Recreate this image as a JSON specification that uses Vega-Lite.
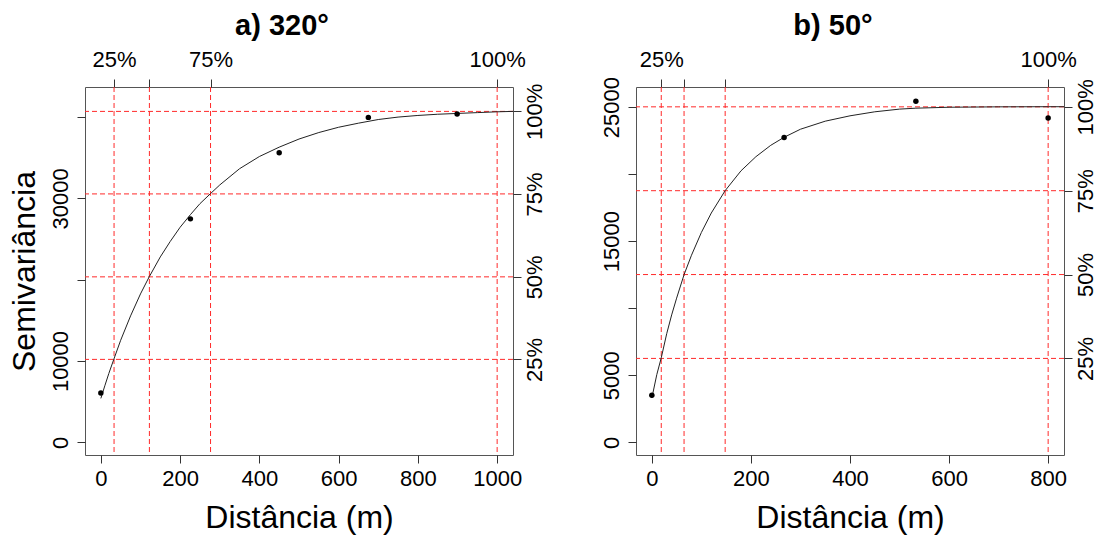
{
  "$schema": "https://vega.github.io/schema/vega-lite/v6.json",
  "background": "white",
  "padding": {"left": 7, "top": 11, "right": 5, "bottom": 5},
  "datasets": {
    "a_pts": [
      {"h": 0, "g": 6057}, {"h": 226, "g": 27482}, {"h": 450, "g": 35627}, {"h": 675, "g": 39963}, {"h": 899, "g": 40381}
    ],
    "a_curve": [
      {"h": 0, "g": 5400}, {"h": 10, "g": 6950}, {"h": 20, "g": 8450}, {"h": 33, "g": 10250}, {"h": 50, "g": 12550},
      {"h": 75, "g": 15550}, {"h": 100, "g": 18250}, {"h": 122, "g": 20350}, {"h": 150, "g": 22800}, {"h": 175, "g": 24700},
      {"h": 200, "g": 26450}, {"h": 226, "g": 28000}, {"h": 250, "g": 29350}, {"h": 277, "g": 30600}, {"h": 300, "g": 31650},
      {"h": 350, "g": 33650}, {"h": 400, "g": 35150}, {"h": 450, "g": 36300}, {"h": 500, "g": 37300}, {"h": 550, "g": 38100},
      {"h": 600, "g": 38750}, {"h": 650, "g": 39250}, {"h": 700, "g": 39700}, {"h": 750, "g": 40000}, {"h": 800, "g": 40200},
      {"h": 850, "g": 40350}, {"h": 900, "g": 40450}, {"h": 950, "g": 40550}, {"h": 1000, "g": 40650}, {"h": 1040, "g": 40700}
    ],
    "a_lev": [
      {"pct": "25%", "g": 10200}, {"pct": "50%", "g": 20350}, {"pct": "75%", "g": 30550}, {"pct": "100%", "g": 40700}
    ],
    "a_cut": [
      {"pct": "25%", "h": 33.3}, {"pct": "50%", "h": 122.5}, {"pct": "75%", "h": 276.8}, {"pct": "100%", "h": 1000}
    ],
    "b_pts": [
      {"h": 0, "g": 3502}, {"h": 267, "g": 22727}, {"h": 533, "g": 25432}, {"h": 800, "g": 24195}
    ],
    "b_curve": [
      {"h": 0, "g": 3300}, {"h": 10, "g": 5050}, {"h": 19, "g": 6300}, {"h": 30, "g": 8100}, {"h": 40, "g": 9500},
      {"h": 50, "g": 10750}, {"h": 65, "g": 12500}, {"h": 80, "g": 13950}, {"h": 100, "g": 15650}, {"h": 120, "g": 17100},
      {"h": 148, "g": 18770}, {"h": 180, "g": 20250}, {"h": 210, "g": 21300}, {"h": 240, "g": 22150}, {"h": 267, "g": 22750},
      {"h": 300, "g": 23350}, {"h": 350, "g": 23950}, {"h": 400, "g": 24350}, {"h": 450, "g": 24650}, {"h": 500, "g": 24850},
      {"h": 533, "g": 24920}, {"h": 600, "g": 24990}, {"h": 700, "g": 25020}, {"h": 800, "g": 25030}, {"h": 832, "g": 25030}
    ],
    "b_lev": [
      {"pct": "25%", "g": 6255}, {"pct": "50%", "g": 12510}, {"pct": "75%", "g": 18765}, {"pct": "100%", "g": 25020}
    ],
    "b_cut": [
      {"pct": "25%", "h": 19}, {"pct": "50%", "h": 65}, {"pct": "75%", "h": 148}, {"pct": "100%", "h": 800}
    ]
  },
  "config": {
    "view": {"stroke": "#555", "strokeWidth": 1},
    "axis": {
      "domain": false, "grid": false, "tickColor": "#333", "tickSize": 8, "tickWidth": 1,
      "labelFont": "Liberation Sans", "labelFontSize": 22, "labelColor": "#000",
      "titleFont": "Liberation Sans", "titleFontWeight": "normal", "titleColor": "#000",
      "labelFlush": false, "labelOverlap": false
    }
  },
  "hconcat": [
    {
      "width": 428, "height": 368,
      "title": {"text": "a) 320°", "font": "Liberation Sans", "fontSize": 29, "fontWeight": "bold", "color": "#000", "frame": "group", "anchor": "middle", "dx": -17, "offset": 7},
      "layer": [
        {
          "data": {"name": "a_lev"},
          "mark": {"type": "rule", "color": "#ff2a2a", "strokeWidth": 1, "strokeDash": [5, 3]},
          "encoding": {
            "y": {"field": "g", "type": "quantitative", "scale": {"domain": [-1560, 43700], "nice": false, "zero": false},
              "axis": {"orient": "right", "title": null, "values": [10200, 20350, 30550, 40700],
                "labelExpr": "datum.value == 10200 ? '25%' : datum.value == 20350 ? '50%' : datum.value == 30550 ? '75%' : '100%'",
                "labelAngle": -90, "labelAlign": "center", "labelBaseline": "top", "labelPadding": 3}}
          }
        },
        {
          "data": {"name": "a_cut"},
          "mark": {"type": "rule", "color": "#ff2a2a", "strokeWidth": 1, "strokeDash": [5, 3]},
          "encoding": {
            "x": {"field": "h", "type": "quantitative", "scale": {"domain": [-40, 1040], "nice": false, "zero": false},
              "axis": {"orient": "top", "title": null, "values": [33.3, 122.5, 276.8, 1000],
                "labelExpr": "datum.value == 33.3 ? '25%' : datum.value == 276.8 ? '75%' : datum.value == 1000 ? '100%' : ''",
                "labelPadding": 8}}
          }
        },
        {
          "data": {"name": "a_curve"},
          "mark": {"type": "line", "color": "#222", "strokeWidth": 1},
          "encoding": {
            "x": {"field": "h", "type": "quantitative", "scale": {"domain": [-40, 1040], "nice": false, "zero": false},
              "axis": {"orient": "bottom", "title": "Distância (m)", "titleFontSize": 32, "titlePadding": 13,
                "values": [0, 200, 400, 600, 800, 1000], "format": "d", "labelPadding": 5}},
            "y": {"field": "g", "type": "quantitative", "scale": {"domain": [-1560, 43700], "nice": false, "zero": false},
              "axis": {"orient": "left", "title": "Semivariância", "titleFontSize": 32, "titlePadding": 8,
                "values": [0, 10000, 20000, 30000, 40000], "format": "d",
                "labelExpr": "datum.value == 20000 || datum.value == 40000 ? '' : datum.label",
                "labelAngle": -90, "labelAlign": "center", "labelBaseline": "bottom", "labelPadding": 5}}
          }
        },
        {
          "data": {"name": "a_pts"},
          "mark": {"type": "circle", "color": "#000", "size": 30, "opacity": 1},
          "encoding": {
            "x": {"field": "h", "type": "quantitative", "scale": {"domain": [-40, 1040], "nice": false, "zero": false}, "axis": null},
            "y": {"field": "g", "type": "quantitative", "scale": {"domain": [-1560, 43700], "nice": false, "zero": false}, "axis": null}
          }
        }
      ],
      "resolve": {"axis": {"x": "independent", "y": "independent"}}
    },
    {
      "width": 428, "height": 368,
      "title": {"text": "b) 50°", "font": "Liberation Sans", "fontSize": 29, "fontWeight": "bold", "color": "#000", "frame": "group", "anchor": "middle", "dx": -17, "offset": 7},
      "layer": [
        {
          "data": {"name": "b_lev"},
          "mark": {"type": "rule", "color": "#ff2a2a", "strokeWidth": 1, "strokeDash": [5, 3]},
          "encoding": {
            "y": {"field": "g", "type": "quantitative", "scale": {"domain": [-950, 26500], "nice": false, "zero": false},
              "axis": {"orient": "right", "title": null, "values": [6255, 12510, 18765, 25020],
                "labelExpr": "datum.value == 6255 ? '25%' : datum.value == 12510 ? '50%' : datum.value == 18765 ? '75%' : '100%'",
                "labelAngle": -90, "labelAlign": "center", "labelBaseline": "top", "labelPadding": 3}}
          }
        },
        {
          "data": {"name": "b_cut"},
          "mark": {"type": "rule", "color": "#ff2a2a", "strokeWidth": 1, "strokeDash": [5, 3]},
          "encoding": {
            "x": {"field": "h", "type": "quantitative", "scale": {"domain": [-32, 832], "nice": false, "zero": false},
              "axis": {"orient": "top", "title": null, "values": [19, 65, 148, 800],
                "labelExpr": "datum.value == 19 ? '25%' : datum.value == 800 ? '100%' : ''",
                "labelPadding": 8}}
          }
        },
        {
          "data": {"name": "b_curve"},
          "mark": {"type": "line", "color": "#222", "strokeWidth": 1},
          "encoding": {
            "x": {"field": "h", "type": "quantitative", "scale": {"domain": [-32, 832], "nice": false, "zero": false},
              "axis": {"orient": "bottom", "title": "Distância (m)", "titleFontSize": 32, "titlePadding": 13,
                "values": [0, 200, 400, 600, 800], "format": "d", "labelPadding": 5}},
            "y": {"field": "g", "type": "quantitative", "scale": {"domain": [-950, 26500], "nice": false, "zero": false},
              "axis": {"orient": "left", "title": null,
                "values": [0, 5000, 10000, 15000, 20000, 25000], "format": "d",
                "labelExpr": "datum.value == 10000 || datum.value == 20000 ? '' : datum.label",
                "labelAngle": -90, "labelAlign": "center", "labelBaseline": "bottom", "labelPadding": 5}}
          }
        },
        {
          "data": {"name": "b_pts"},
          "mark": {"type": "circle", "color": "#000", "size": 30, "opacity": 1},
          "encoding": {
            "x": {"field": "h", "type": "quantitative", "scale": {"domain": [-32, 832], "nice": false, "zero": false}, "axis": null},
            "y": {"field": "g", "type": "quantitative", "scale": {"domain": [-950, 26500], "nice": false, "zero": false}, "axis": null}
          }
        }
      ],
      "resolve": {"axis": {"x": "independent", "y": "independent"}}
    }
  ],
  "spacing": 123,
  "bounds": "flush"
}
